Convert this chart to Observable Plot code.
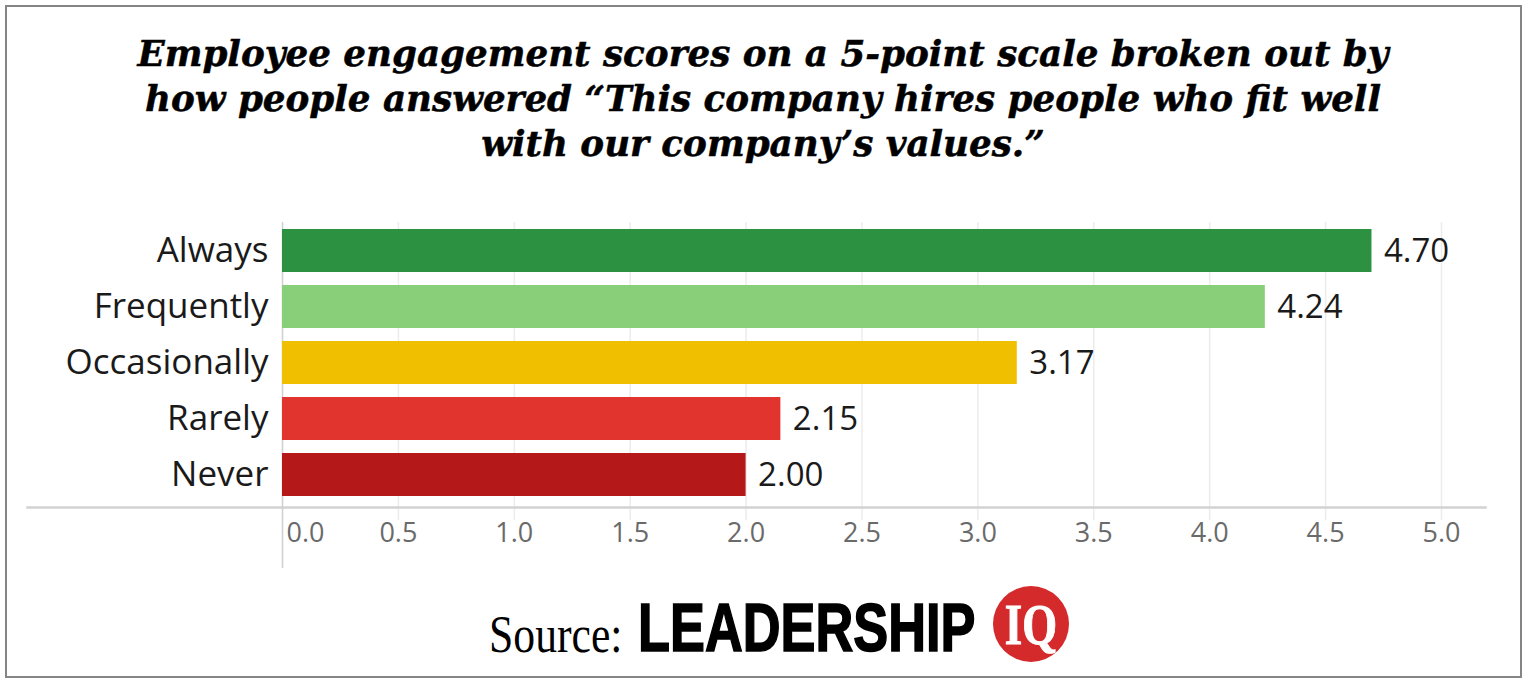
<!DOCTYPE html>
<html>
<head>
<meta charset="utf-8">
<script src="https://cdn.jsdelivr.net/npm/d3@7"></script>
<script src="https://cdn.jsdelivr.net/npm/@observablehq/plot@0.6"></script>
<style>
  html, body { margin: 0; padding: 0; background: #fff; }
  #wrap { position: relative; width: 1526px; height: 682px; background: #fff; overflow: hidden; }
  #frame { position: absolute; left: 5px; top: 5px; width: 1517px; height: 673px; border: 2.5px solid #858585; box-sizing: border-box; }
  #title { position: absolute; left: 0; top: 31px; width: 1526px; text-align: center;
           font-family: "DejaVu Serif", serif; font-weight: bold; font-style: italic;
           font-size: 35.7px; line-height: 45px; color: #000; -webkit-text-stroke: 0.5px #000; }
  #chart { position: absolute; left: 0; top: 200px; }
  #src-label { position: absolute; left: 489px; top: 605px; font-family: "Liberation Serif", serif; font-size: 52px; line-height: 60px;
               color: #000; transform: scaleX(0.84); transform-origin: 0 0; white-space: nowrap; }
  #src-brand { position: absolute; left: 638px; top: 591px; font-family: "Liberation Sans", Arial, sans-serif; font-weight: bold; font-size: 68px; line-height: 72px;
               color: #000; -webkit-text-stroke: 1.6px #000; transform: scaleX(0.77); transform-origin: 0 0; white-space: nowrap; }
  #src-iq { position: absolute; left: 993px; top: 586px; width: 76px; height: 76px; border-radius: 50%; background: #d42a2c; }
  #src-iq span { position: absolute; left: 0; top: 0; width: 76px; text-align: center; color: #fff;
                 font-family: "Liberation Serif", serif; font-weight: bold; font-size: 56px; line-height: 78px;
                 -webkit-text-stroke: 1px #fff; transform: scaleX(0.8); transform-origin: 38px 0; }
</style>
</head>
<body>
<div id="wrap">
  <div id="frame"></div>
  <div id="title">Employee engagement scores on a 5-point scale broken out by<br>how people answered “This company hires people who fit well<br>with our company’s values.”</div>
  <div id="chart"></div>
  <div id="src-label">Source:</div>
  <div id="src-brand">LEADERSHIP</div>
  <div id="src-iq"><span>IQ</span></div>
</div>
<script>
const categories = ["Always", "Frequently", "Occasionally", "Rarely", "Never"];
const scores = [4.70, 4.24, 3.17, 2.15, 2.00];
const barColors = ["#2c9141", "#89cf7a", "#f0c000", "#e2342f", "#b51818"];
const tickValues = [0, 0.5, 1, 1.5, 2, 2.5, 3, 3.5, 4, 4.5, 5];
const tickLabels = ["0.0", "0.5", "1.0", "1.5", "2.0", "2.5", "3.0", "3.5", "4.0", "4.5", "5.0"];

const data = categories.map((c, i) => ({category: c, score: scores[i]}));
const firstTick = tickValues.slice(0, 1);
const otherTicks = tickValues.slice(1);

const chart = Plot.plot({
  width: 1526,
  height: 390,
  marginLeft: 282,
  marginRight: 85,
  marginTop: 18,
  marginBottom: 83,
  style: {fontFamily: "'Open Sans', sans-serif", background: "transparent", overflow: "visible"},
  x: {domain: [0, 5], axis: null},
  y: {domain: categories, paddingInner: 0.228, paddingOuter: 0.158, label: null, axis: null},
  color: {domain: categories, range: barColors},
  marks: [
    Plot.ruleX(otherTicks, {x: d => d, stroke: "#ececec", strokeWidth: 1.5, insetTop: 4, insetBottom: -13}),
    Plot.frame({anchor: "bottom", stroke: "#d2d2d2", strokeWidth: 2.5, insetLeft: -255, insetRight: -44}),
    Plot.ruleX(firstTick, {x: d => d, stroke: "#d0d0d0", strokeWidth: 1.5, insetTop: 4, insetBottom: -61}),
    Plot.barX(data, {x: "score", y: "category", fill: "category"}),
    Plot.text(data, {x: "score", y: "category", text: d => d.score.toFixed(2), textAnchor: "start", dx: 12, fontSize: 33, fill: "#1a1a1a"}),
    Plot.axisY({tickSize: 0, tickPadding: 14, fontSize: 35, fill: "#1a1a1a", label: null}),
    Plot.text(firstTick, {x: d => d, frameAnchor: "bottom", dy: 34, dx: 4, textAnchor: "start", text: (d, i) => tickLabels[0], fontSize: 27, fill: "#6a6a6a"}),
    Plot.text(otherTicks, {x: d => d, frameAnchor: "bottom", dy: 34, text: (d, i) => tickLabels[i + 1], fontSize: 27, fill: "#6a6a6a"})
  ]
});
document.getElementById("chart").appendChild(chart);
</script>
</body>
</html>
